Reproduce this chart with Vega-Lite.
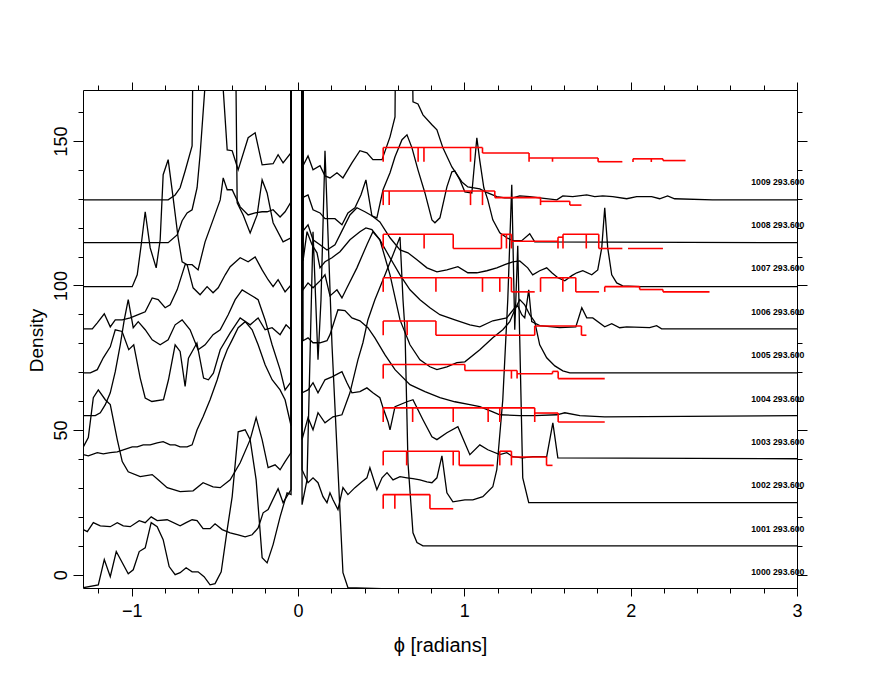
{
"$schema":"https://vega.github.io/schema/vega-lite/v6.json",
"autosize":{"type":"none"},
"padding":{"left":83,"top":90,"right":83,"bottom":92},
"width":714,"height":498,
"background":"white",
"config":{"view":{"stroke":null},"axis":{"grid":false,"domainColor":"#000","tickColor":"#000","labelColor":"#000","titleColor":"#000","labelFont":"Liberation Sans","titleFont":"Liberation Sans","titleFontWeight":"normal","domainWidth":1,"tickWidth":1,"labelFlush":false,"labelOverlap":false}},
"datasets":{
"curves":[
{"c":"1009","x":-1.291,"y":129.6},{"c":"1009","x":-0.781,"y":129.6},{"c":"1009","x":-0.739,"y":131.3},{"c":"1009","x":-0.709,"y":133.8},{"c":"1009","x":-0.679,"y":139.6},{"c":"1009","x":-0.637,"y":148.3},{"c":"1009","x":-0.613,"y":300},{"c":"1009","x":-0.601,"y":300},{"c":"1009","x":-0.426,"y":146.9},{"c":"1009","x":-0.396,"y":146.6},{"c":"1009","x":-0.36,"y":140.0},{"c":"1009","x":-0.3,"y":151.1},{"c":"1009","x":-0.258,"y":152.8},{"c":"1009","x":-0.216,"y":141.7},{"c":"1009","x":-0.15,"y":142.1},{"c":"1009","x":-0.12,"y":145.2},{"c":"1009","x":-0.09,"y":142.4},{"c":"1009","x":-0.042,"y":145.9},{"c":"1009","x":-0.01,"y":100000},{"c":"1009","x":0,"y":100000},{"c":"1009","x":0.024,"y":140.7},{"c":"1009","x":0.06,"y":144.8},{"c":"1009","x":0.09,"y":140.0},{"c":"1009","x":0.132,"y":141.4},{"c":"1009","x":0.162,"y":137.9},{"c":"1009","x":0.192,"y":137.2},{"c":"1009","x":0.234,"y":139.0},{"c":"1009","x":0.27,"y":137.2},{"c":"1009","x":0.324,"y":142.4},{"c":"1009","x":0.372,"y":146.6},{"c":"1009","x":0.414,"y":145.9},{"c":"1009","x":0.45,"y":143.5},{"c":"1009","x":0.505,"y":143.5},{"c":"1009","x":0.553,"y":151.4},{"c":"1009","x":0.583,"y":158.3},{"c":"1009","x":0.601,"y":300},{"c":"1009","x":0.661,"y":300},{"c":"1009","x":0.691,"y":163.5},{"c":"1009","x":0.721,"y":162.8},{"c":"1009","x":0.751,"y":159.0},{"c":"1009","x":0.805,"y":155.6},{"c":"1009","x":0.835,"y":153.8},{"c":"1009","x":0.871,"y":147.6},{"c":"1009","x":0.925,"y":141.0},{"c":"1009","x":0.985,"y":135.8},{"c":"1009","x":1.021,"y":134.1},{"c":"1009","x":1.093,"y":133.4},{"c":"1009","x":1.141,"y":132.0},{"c":"1009","x":1.195,"y":130.7},{"c":"1009","x":1.243,"y":130.3},{"c":"1009","x":1.291,"y":130.3},{"c":"1009","x":1.333,"y":131.0},{"c":"1009","x":1.393,"y":130.7},{"c":"1009","x":1.453,"y":130.3},{"c":"1009","x":1.556,"y":129.6},{"c":"1009","x":1.592,"y":131.0},{"c":"1009","x":1.652,"y":130.7},{"c":"1009","x":1.736,"y":131.3},{"c":"1009","x":1.784,"y":130.7},{"c":"1009","x":1.832,"y":131.0},{"c":"1009","x":1.892,"y":130.7},{"c":"1009","x":1.976,"y":130.0},{"c":"1009","x":2.036,"y":130.7},{"c":"1009","x":2.126,"y":130.7},{"c":"1009","x":2.174,"y":130.0},{"c":"1009","x":2.222,"y":131.0},{"c":"1009","x":2.264,"y":130.0},{"c":"1009","x":2.492,"y":129.6},{"c":"1009","x":3.0,"y":129.6},
{"c":"1008","x":-1.291,"y":114.8},{"c":"1008","x":-0.781,"y":114.8},{"c":"1008","x":-0.727,"y":117.5},{"c":"1008","x":-0.697,"y":122.4},{"c":"1008","x":-0.667,"y":125.1},{"c":"1008","x":-0.637,"y":126.2},{"c":"1008","x":-0.607,"y":133.8},{"c":"1008","x":-0.589,"y":145.2},{"c":"1008","x":-0.396,"y":300},{"c":"1008","x":-0.366,"y":128.6},{"c":"1008","x":-0.33,"y":124.4},{"c":"1008","x":-0.288,"y":118.2},{"c":"1008","x":-0.246,"y":124.4},{"c":"1008","x":-0.216,"y":136.5},{"c":"1008","x":-0.186,"y":132.0},{"c":"1008","x":-0.15,"y":121.7},{"c":"1008","x":-0.09,"y":115.1},{"c":"1008","x":-0.042,"y":116.5},{"c":"1008","x":-0.01,"y":100000},{"c":"1008","x":0,"y":100000},{"c":"1008","x":0.024,"y":130.3},{"c":"1008","x":0.06,"y":131.3},{"c":"1008","x":0.09,"y":126.2},{"c":"1008","x":0.132,"y":125.1},{"c":"1008","x":0.162,"y":123.1},{"c":"1008","x":0.222,"y":123.1},{"c":"1008","x":0.264,"y":121.0},{"c":"1008","x":0.3,"y":125.1},{"c":"1008","x":0.342,"y":126.9},{"c":"1008","x":0.378,"y":131.3},{"c":"1008","x":0.408,"y":136.5},{"c":"1008","x":0.444,"y":124.1},{"c":"1008","x":0.474,"y":123.4},{"c":"1008","x":0.511,"y":133.1},{"c":"1008","x":0.553,"y":139.0},{"c":"1008","x":0.583,"y":144.5},{"c":"1008","x":0.625,"y":150.4},{"c":"1008","x":0.655,"y":152.1},{"c":"1008","x":0.685,"y":147.6},{"c":"1008","x":0.721,"y":140.0},{"c":"1008","x":0.763,"y":132.0},{"c":"1008","x":0.805,"y":122.7},{"c":"1008","x":0.823,"y":121.7},{"c":"1008","x":0.853,"y":123.4},{"c":"1008","x":0.895,"y":134.1},{"c":"1008","x":0.925,"y":139.3},{"c":"1008","x":0.943,"y":139.6},{"c":"1008","x":0.973,"y":136.5},{"c":"1008","x":1.003,"y":132.4},{"c":"1008","x":1.045,"y":132.0},{"c":"1008","x":1.075,"y":151.1},{"c":"1008","x":1.093,"y":143.1},{"c":"1008","x":1.117,"y":133.8},{"c":"1008","x":1.141,"y":129.6},{"c":"1008","x":1.171,"y":122.7},{"c":"1008","x":1.213,"y":118.2},{"c":"1008","x":1.255,"y":116.5},{"c":"1008","x":1.291,"y":115.5},{"c":"1008","x":1.345,"y":115.5},{"c":"1008","x":1.393,"y":117.9},{"c":"1008","x":1.423,"y":115.1},{"c":"1008","x":3.0,"y":114.8},
{"c":"1007","x":-1.291,"y":99.6},{"c":"1007","x":-0.997,"y":99.6},{"c":"1007","x":-0.967,"y":103.7},{"c":"1007","x":-0.943,"y":114.1},{"c":"1007","x":-0.919,"y":125.5},{"c":"1007","x":-0.889,"y":113.0},{"c":"1007","x":-0.853,"y":106.1},{"c":"1007","x":-0.829,"y":115.8},{"c":"1007","x":-0.811,"y":138.3},{"c":"1007","x":-0.781,"y":143.5},{"c":"1007","x":-0.751,"y":130.3},{"c":"1007","x":-0.721,"y":116.5},{"c":"1007","x":-0.697,"y":108.2},{"c":"1007","x":-0.667,"y":107.2},{"c":"1007","x":-0.631,"y":99.2},{"c":"1007","x":-0.589,"y":96.8},{"c":"1007","x":-0.547,"y":99.6},{"c":"1007","x":-0.511,"y":97.5},{"c":"1007","x":-0.48,"y":99.2},{"c":"1007","x":-0.438,"y":103.7},{"c":"1007","x":-0.408,"y":106.5},{"c":"1007","x":-0.348,"y":109.6},{"c":"1007","x":-0.3,"y":108.2},{"c":"1007","x":-0.258,"y":109.9},{"c":"1007","x":-0.216,"y":105.4},{"c":"1007","x":-0.18,"y":102.0},{"c":"1007","x":-0.15,"y":99.6},{"c":"1007","x":-0.12,"y":102.0},{"c":"1007","x":-0.078,"y":97.8},{"c":"1007","x":-0.042,"y":100.2},{"c":"1007","x":-0.01,"y":100000},{"c":"1007","x":0,"y":100000},{"c":"1007","x":0.03,"y":118.9},{"c":"1007","x":0.06,"y":121.0},{"c":"1007","x":0.09,"y":115.8},{"c":"1007","x":0.132,"y":114.1},{"c":"1007","x":0.174,"y":112.3},{"c":"1007","x":0.222,"y":114.1},{"c":"1007","x":0.264,"y":118.9},{"c":"1007","x":0.312,"y":124.4},{"c":"1007","x":0.354,"y":126.9},{"c":"1007","x":0.402,"y":125.5},{"c":"1007","x":0.444,"y":124.1},{"c":"1007","x":0.492,"y":122.0},{"c":"1007","x":0.553,"y":116.5},{"c":"1007","x":0.613,"y":112.3},{"c":"1007","x":0.661,"y":111.3},{"c":"1007","x":0.715,"y":108.9},{"c":"1007","x":0.775,"y":106.1},{"c":"1007","x":0.835,"y":104.7},{"c":"1007","x":0.895,"y":105.4},{"c":"1007","x":0.961,"y":106.5},{"c":"1007","x":1.021,"y":104.4},{"c":"1007","x":1.075,"y":104.4},{"c":"1007","x":1.135,"y":105.1},{"c":"1007","x":1.195,"y":106.1},{"c":"1007","x":1.243,"y":107.2},{"c":"1007","x":1.291,"y":108.2},{"c":"1007","x":1.333,"y":108.5},{"c":"1007","x":1.381,"y":106.1},{"c":"1007","x":1.411,"y":103.7},{"c":"1007","x":1.453,"y":105.1},{"c":"1007","x":1.495,"y":106.1},{"c":"1007","x":1.526,"y":104.4},{"c":"1007","x":1.562,"y":102.7},{"c":"1007","x":1.604,"y":101.6},{"c":"1007","x":1.646,"y":103.4},{"c":"1007","x":1.676,"y":104.4},{"c":"1007","x":1.712,"y":105.1},{"c":"1007","x":1.766,"y":103.7},{"c":"1007","x":1.802,"y":105.4},{"c":"1007","x":1.826,"y":113.0},{"c":"1007","x":1.844,"y":126.9},{"c":"1007","x":1.862,"y":113.0},{"c":"1007","x":1.886,"y":103.7},{"c":"1007","x":1.916,"y":100.9},{"c":"1007","x":1.952,"y":99.9},{"c":"1007","x":2.054,"y":99.6},{"c":"1007","x":3.0,"y":99.6},
{"c":"1006","x":-1.291,"y":85.0},{"c":"1006","x":-1.237,"y":85.0},{"c":"1006","x":-1.207,"y":87.1},{"c":"1006","x":-1.165,"y":90.2},{"c":"1006","x":-1.129,"y":85.7},{"c":"1006","x":-1.099,"y":88.1},{"c":"1006","x":-1.057,"y":88.1},{"c":"1006","x":-1.009,"y":88.8},{"c":"1006","x":-0.961,"y":89.9},{"c":"1006","x":-0.919,"y":90.9},{"c":"1006","x":-0.877,"y":95.7},{"c":"1006","x":-0.841,"y":95.1},{"c":"1006","x":-0.799,"y":92.3},{"c":"1006","x":-0.769,"y":93.3},{"c":"1006","x":-0.727,"y":98.5},{"c":"1006","x":-0.679,"y":107.2},{"c":"1006","x":-0.637,"y":107.2},{"c":"1006","x":-0.601,"y":105.4},{"c":"1006","x":-0.559,"y":115.1},{"c":"1006","x":-0.511,"y":122.7},{"c":"1006","x":-0.468,"y":129.6},{"c":"1006","x":-0.45,"y":137.2},{"c":"1006","x":-0.426,"y":133.1},{"c":"1006","x":-0.396,"y":133.1},{"c":"1006","x":-0.348,"y":127.2},{"c":"1006","x":-0.3,"y":124.4},{"c":"1006","x":-0.258,"y":125.1},{"c":"1006","x":-0.216,"y":125.5},{"c":"1006","x":-0.186,"y":125.5},{"c":"1006","x":-0.15,"y":126.2},{"c":"1006","x":-0.108,"y":123.7},{"c":"1006","x":-0.078,"y":125.5},{"c":"1006","x":-0.042,"y":128.9},{"c":"1006","x":-0.01,"y":100000},{"c":"1006","x":0,"y":100000},{"c":"1006","x":0.03,"y":108.5},{"c":"1006","x":0.054,"y":118.6},{"c":"1006","x":0.084,"y":114.1},{"c":"1006","x":0.114,"y":111.3},{"c":"1006","x":0.132,"y":106.1},{"c":"1006","x":0.162,"y":108.2},{"c":"1006","x":0.204,"y":109.6},{"c":"1006","x":0.252,"y":111.7},{"c":"1006","x":0.312,"y":115.8},{"c":"1006","x":0.372,"y":118.6},{"c":"1006","x":0.408,"y":119.9},{"c":"1006","x":0.444,"y":119.3},{"c":"1006","x":0.492,"y":115.8},{"c":"1006","x":0.553,"y":109.6},{"c":"1006","x":0.613,"y":103.7},{"c":"1006","x":0.673,"y":98.5},{"c":"1006","x":0.733,"y":95.1},{"c":"1006","x":0.793,"y":92.3},{"c":"1006","x":0.853,"y":89.9},{"c":"1006","x":0.943,"y":88.1},{"c":"1006","x":1.033,"y":86.4},{"c":"1006","x":1.093,"y":85.7},{"c":"1006","x":1.171,"y":87.8},{"c":"1006","x":1.255,"y":88.8},{"c":"1006","x":1.303,"y":92.3},{"c":"1006","x":1.321,"y":93.0},{"c":"1006","x":1.345,"y":89.9},{"c":"1006","x":1.363,"y":88.8},{"c":"1006","x":1.387,"y":98.5},{"c":"1006","x":1.405,"y":87.5},{"c":"1006","x":1.453,"y":86.1},{"c":"1006","x":1.574,"y":85.4},{"c":"1006","x":1.67,"y":85.7},{"c":"1006","x":1.706,"y":92.3},{"c":"1006","x":1.736,"y":88.8},{"c":"1006","x":1.772,"y":88.8},{"c":"1006","x":1.844,"y":85.7},{"c":"1006","x":1.886,"y":86.8},{"c":"1006","x":1.934,"y":85.4},{"c":"1006","x":1.976,"y":85.7},{"c":"1006","x":2.114,"y":85.4},{"c":"1006","x":2.156,"y":86.1},{"c":"1006","x":2.186,"y":85.0},{"c":"1006","x":3.0,"y":85.0},
{"c":"1005","x":-1.291,"y":69.8},{"c":"1005","x":-1.249,"y":69.8},{"c":"1005","x":-1.207,"y":70.9},{"c":"1005","x":-1.171,"y":75.0},{"c":"1005","x":-1.129,"y":78.8},{"c":"1005","x":-1.099,"y":84.7},{"c":"1005","x":-1.058,"y":84.1},{"c":"1005","x":-1.018,"y":77.8},{"c":"1005","x":-0.988,"y":79.5},{"c":"1005","x":-0.949,"y":68.0},{"c":"1005","x":-0.919,"y":61.1},{"c":"1005","x":-0.879,"y":59.9},{"c":"1005","x":-0.809,"y":60.5},{"c":"1005","x":-0.779,"y":67.4},{"c":"1005","x":-0.739,"y":79.5},{"c":"1005","x":-0.709,"y":77.2},{"c":"1005","x":-0.679,"y":65.1},{"c":"1005","x":-0.659,"y":74.9},{"c":"1005","x":-0.608,"y":80.1},{"c":"1005","x":-0.568,"y":68.0},{"c":"1005","x":-0.539,"y":67.4},{"c":"1005","x":-0.509,"y":69.7},{"c":"1005","x":-0.468,"y":77.8},{"c":"1005","x":-0.408,"y":83.6},{"c":"1005","x":-0.348,"y":88.8},{"c":"1005","x":-0.288,"y":86.4},{"c":"1005","x":-0.24,"y":88.8},{"c":"1005","x":-0.198,"y":84.7},{"c":"1005","x":-0.156,"y":85.4},{"c":"1005","x":-0.108,"y":83.0},{"c":"1005","x":-0.072,"y":86.4},{"c":"1005","x":-0.042,"y":84.7},{"c":"1005","x":-0.01,"y":100000},{"c":"1005","x":0,"y":100000},{"c":"1005","x":0.03,"y":98.5},{"c":"1005","x":0.06,"y":100.9},{"c":"1005","x":0.09,"y":99.2},{"c":"1005","x":0.132,"y":101.6},{"c":"1005","x":0.162,"y":103.7},{"c":"1005","x":0.192,"y":96.4},{"c":"1005","x":0.234,"y":98.5},{"c":"1005","x":0.264,"y":95.7},{"c":"1005","x":0.294,"y":99.2},{"c":"1005","x":0.354,"y":106.1},{"c":"1005","x":0.414,"y":114.1},{"c":"1005","x":0.45,"y":118.6},{"c":"1005","x":0.492,"y":115.8},{"c":"1005","x":0.553,"y":103.7},{"c":"1005","x":0.613,"y":88.1},{"c":"1005","x":0.673,"y":79.5},{"c":"1005","x":0.733,"y":74.3},{"c":"1005","x":0.793,"y":71.9},{"c":"1005","x":0.835,"y":70.9},{"c":"1005","x":0.895,"y":71.9},{"c":"1005","x":0.955,"y":73.3},{"c":"1005","x":1.003,"y":73.6},{"c":"1005","x":1.093,"y":77.8},{"c":"1005","x":1.171,"y":81.9},{"c":"1005","x":1.231,"y":84.7},{"c":"1005","x":1.273,"y":87.5},{"c":"1005","x":1.303,"y":91.6},{"c":"1005","x":1.333,"y":95.1},{"c":"1005","x":1.363,"y":93.3},{"c":"1005","x":1.393,"y":89.9},{"c":"1005","x":1.423,"y":87.5},{"c":"1005","x":1.453,"y":79.5},{"c":"1005","x":1.495,"y":75.0},{"c":"1005","x":1.544,"y":72.2},{"c":"1005","x":1.592,"y":70.5},{"c":"1005","x":1.634,"y":69.8},{"c":"1005","x":3.0,"y":69.8},
{"c":"1004","x":-1.291,"y":55.0},{"c":"1004","x":-1.219,"y":55.0},{"c":"1004","x":-1.189,"y":56.0},{"c":"1004","x":-1.159,"y":58.8},{"c":"1004","x":-1.129,"y":62.9},{"c":"1004","x":-1.099,"y":70.2},{"c":"1004","x":-1.069,"y":79.5},{"c":"1004","x":-1.045,"y":88.1},{"c":"1004","x":-1.021,"y":95.1},{"c":"1004","x":-0.991,"y":85.4},{"c":"1004","x":-0.961,"y":87.5},{"c":"1004","x":-0.919,"y":84.7},{"c":"1004","x":-0.877,"y":81.2},{"c":"1004","x":-0.829,"y":79.5},{"c":"1004","x":-0.781,"y":81.2},{"c":"1004","x":-0.739,"y":86.4},{"c":"1004","x":-0.697,"y":88.1},{"c":"1004","x":-0.649,"y":84.7},{"c":"1004","x":-0.601,"y":77.8},{"c":"1004","x":-0.559,"y":79.5},{"c":"1004","x":-0.511,"y":83.0},{"c":"1004","x":-0.468,"y":84.7},{"c":"1004","x":-0.42,"y":89.9},{"c":"1004","x":-0.378,"y":95.1},{"c":"1004","x":-0.336,"y":98.5},{"c":"1004","x":-0.288,"y":96.8},{"c":"1004","x":-0.24,"y":95.1},{"c":"1004","x":-0.198,"y":88.1},{"c":"1004","x":-0.156,"y":79.5},{"c":"1004","x":-0.108,"y":70.9},{"c":"1004","x":-0.078,"y":63.9},{"c":"1004","x":-0.042,"y":66.7},{"c":"1004","x":-0.01,"y":100000},{"c":"1004","x":0,"y":100000},{"c":"1004","x":0.03,"y":80.9},{"c":"1004","x":0.06,"y":81.9},{"c":"1004","x":0.09,"y":80.2},{"c":"1004","x":0.132,"y":80.2},{"c":"1004","x":0.174,"y":80.9},{"c":"1004","x":0.192,"y":83.0},{"c":"1004","x":0.24,"y":91.6},{"c":"1004","x":0.282,"y":91.3},{"c":"1004","x":0.324,"y":88.8},{"c":"1004","x":0.372,"y":87.8},{"c":"1004","x":0.42,"y":85.4},{"c":"1004","x":0.462,"y":81.9},{"c":"1004","x":0.523,"y":76.0},{"c":"1004","x":0.583,"y":70.9},{"c":"1004","x":0.673,"y":65.7},{"c":"1004","x":0.763,"y":63.3},{"c":"1004","x":0.853,"y":61.2},{"c":"1004","x":0.943,"y":59.8},{"c":"1004","x":1.033,"y":58.8},{"c":"1004","x":1.093,"y":58.1},{"c":"1004","x":1.171,"y":56.3},{"c":"1004","x":1.213,"y":55.3},{"c":"1004","x":1.333,"y":55.0},{"c":"1004","x":1.423,"y":55.0},{"c":"1004","x":1.556,"y":55.3},{"c":"1004","x":1.604,"y":56.0},{"c":"1004","x":1.694,"y":55.0},{"c":"1004","x":1.844,"y":54.6},{"c":"1004","x":3.0,"y":55.0},
{"c":"1003","x":-1.291,"y":44.2},{"c":"1003","x":-1.261,"y":47.4},{"c":"1003","x":-1.231,"y":61.2},{"c":"1003","x":-1.201,"y":63.9},{"c":"1003","x":-1.159,"y":60.5},{"c":"1003","x":-1.129,"y":58.8},{"c":"1003","x":-1.087,"y":46.7},{"c":"1003","x":-1.057,"y":39.1},{"c":"1003","x":-1.021,"y":35.6},{"c":"1003","x":-0.949,"y":33.9},{"c":"1003","x":-0.877,"y":34.6},{"c":"1003","x":-0.841,"y":32.8},{"c":"1003","x":-0.787,"y":30.1},{"c":"1003","x":-0.709,"y":28.7},{"c":"1003","x":-0.631,"y":29.0},{"c":"1003","x":-0.571,"y":31.8},{"c":"1003","x":-0.511,"y":30.4},{"c":"1003","x":-0.468,"y":30.1},{"c":"1003","x":-0.408,"y":32.8},{"c":"1003","x":-0.348,"y":38.7},{"c":"1003","x":-0.288,"y":46.7},{"c":"1003","x":-0.252,"y":54.3},{"c":"1003","x":-0.216,"y":46.7},{"c":"1003","x":-0.18,"y":37.0},{"c":"1003","x":-0.138,"y":38.0},{"c":"1003","x":-0.108,"y":36.3},{"c":"1003","x":-0.078,"y":39.1},{"c":"1003","x":-0.042,"y":42.2},{"c":"1003","x":-0.01,"y":100000},{"c":"1003","x":0,"y":100000},{"c":"1003","x":0.024,"y":62.9},{"c":"1003","x":0.06,"y":63.9},{"c":"1003","x":0.09,"y":66.4},{"c":"1003","x":0.12,"y":62.9},{"c":"1003","x":0.162,"y":67.4},{"c":"1003","x":0.204,"y":68.4},{"c":"1003","x":0.264,"y":70.2},{"c":"1003","x":0.294,"y":66.4},{"c":"1003","x":0.324,"y":62.9},{"c":"1003","x":0.372,"y":63.3},{"c":"1003","x":0.414,"y":64.6},{"c":"1003","x":0.45,"y":62.9},{"c":"1003","x":0.492,"y":61.2},{"c":"1003","x":0.511,"y":57.7},{"c":"1003","x":0.541,"y":52.9},{"c":"1003","x":0.553,"y":50.1},{"c":"1003","x":0.583,"y":58.1},{"c":"1003","x":0.655,"y":59.8},{"c":"1003","x":0.691,"y":60.5},{"c":"1003","x":0.751,"y":53.6},{"c":"1003","x":0.805,"y":47.7},{"c":"1003","x":0.835,"y":46.7},{"c":"1003","x":0.895,"y":49.1},{"c":"1003","x":0.961,"y":51.2},{"c":"1003","x":1.033,"y":41.5},{"c":"1003","x":1.093,"y":44.9},{"c":"1003","x":1.141,"y":43.2},{"c":"1003","x":1.213,"y":41.5},{"c":"1003","x":1.255,"y":42.2},{"c":"1003","x":1.291,"y":40.8},{"c":"1003","x":1.351,"y":40.4},{"c":"1003","x":1.411,"y":40.8},{"c":"1003","x":1.495,"y":40.8},{"c":"1003","x":1.532,"y":52.5},{"c":"1003","x":1.562,"y":40.4},{"c":"1003","x":3.0,"y":40.1},
{"c":"1002","x":-1.291,"y":41.5},{"c":"1002","x":-1.261,"y":41.1},{"c":"1002","x":-1.207,"y":42.2},{"c":"1002","x":-1.171,"y":41.8},{"c":"1002","x":-1.129,"y":42.2},{"c":"1002","x":-1.087,"y":42.5},{"c":"1002","x":-1.051,"y":43.2},{"c":"1002","x":-0.997,"y":44.2},{"c":"1002","x":-0.967,"y":44.2},{"c":"1002","x":-0.931,"y":44.9},{"c":"1002","x":-0.889,"y":44.9},{"c":"1002","x":-0.847,"y":45.6},{"c":"1002","x":-0.811,"y":46.0},{"c":"1002","x":-0.769,"y":44.9},{"c":"1002","x":-0.739,"y":44.9},{"c":"1002","x":-0.709,"y":44.2},{"c":"1002","x":-0.667,"y":44.2},{"c":"1002","x":-0.637,"y":44.9},{"c":"1002","x":-0.607,"y":50.1},{"c":"1002","x":-0.571,"y":54.6},{"c":"1002","x":-0.529,"y":60.5},{"c":"1002","x":-0.486,"y":67.4},{"c":"1002","x":-0.456,"y":73.3},{"c":"1002","x":-0.426,"y":77.8},{"c":"1002","x":-0.396,"y":81.2},{"c":"1002","x":-0.36,"y":85.4},{"c":"1002","x":-0.318,"y":87.5},{"c":"1002","x":-0.276,"y":84.7},{"c":"1002","x":-0.24,"y":79.5},{"c":"1002","x":-0.198,"y":72.6},{"c":"1002","x":-0.156,"y":67.4},{"c":"1002","x":-0.108,"y":63.9},{"c":"1002","x":-0.078,"y":60.5},{"c":"1002","x":-0.042,"y":51.5},{"c":"1002","x":-0.01,"y":100000},{"c":"1002","x":0,"y":100000},{"c":"1002","x":0.024,"y":36.3},{"c":"1002","x":0.06,"y":31.8},{"c":"1002","x":0.09,"y":33.5},{"c":"1002","x":0.12,"y":31.8},{"c":"1002","x":0.15,"y":27.0},{"c":"1002","x":0.174,"y":24.9},{"c":"1002","x":0.192,"y":28.3},{"c":"1002","x":0.21,"y":25.9},{"c":"1002","x":0.24,"y":22.5},{"c":"1002","x":0.27,"y":30.1},{"c":"1002","x":0.3,"y":27.7},{"c":"1002","x":0.342,"y":30.1},{"c":"1002","x":0.384,"y":32.1},{"c":"1002","x":0.414,"y":33.5},{"c":"1002","x":0.432,"y":37.0},{"c":"1002","x":0.474,"y":29.4},{"c":"1002","x":0.505,"y":33.5},{"c":"1002","x":0.535,"y":35.3},{"c":"1002","x":0.571,"y":32.8},{"c":"1002","x":0.613,"y":33.9},{"c":"1002","x":0.655,"y":33.5},{"c":"1002","x":0.691,"y":33.2},{"c":"1002","x":0.733,"y":32.8},{"c":"1002","x":0.775,"y":32.1},{"c":"1002","x":0.805,"y":31.8},{"c":"1002","x":0.835,"y":33.5},{"c":"1002","x":0.865,"y":41.1},{"c":"1002","x":0.895,"y":28.3},{"c":"1002","x":0.931,"y":25.2},{"c":"1002","x":1.003,"y":25.9},{"c":"1002","x":1.051,"y":25.9},{"c":"1002","x":1.111,"y":27.0},{"c":"1002","x":1.171,"y":30.4},{"c":"1002","x":1.195,"y":36.3},{"c":"1002","x":1.231,"y":60.5},{"c":"1002","x":1.261,"y":95.1},{"c":"1002","x":1.285,"y":134.8},{"c":"1002","x":1.303,"y":84.7},{"c":"1002","x":1.321,"y":113.7},{"c":"1002","x":1.333,"y":81.2},{"c":"1002","x":1.351,"y":33.5},{"c":"1002","x":1.387,"y":24.9},{"c":"1002","x":3.0,"y":24.9},
{"c":"1001","x":-1.291,"y":15.6},{"c":"1001","x":-1.267,"y":14.9},{"c":"1001","x":-1.231,"y":18.0},{"c":"1001","x":-1.189,"y":16.9},{"c":"1001","x":-1.129,"y":16.6},{"c":"1001","x":-1.087,"y":18.0},{"c":"1001","x":-1.051,"y":16.9},{"c":"1001","x":-1.009,"y":16.6},{"c":"1001","x":-0.955,"y":18.7},{"c":"1001","x":-0.919,"y":18.0},{"c":"1001","x":-0.883,"y":20.0},{"c":"1001","x":-0.847,"y":18.7},{"c":"1001","x":-0.787,"y":19.0},{"c":"1001","x":-0.709,"y":16.9},{"c":"1001","x":-0.673,"y":18.0},{"c":"1001","x":-0.637,"y":19.0},{"c":"1001","x":-0.607,"y":18.7},{"c":"1001","x":-0.571,"y":15.9},{"c":"1001","x":-0.529,"y":15.9},{"c":"1001","x":-0.499,"y":17.6},{"c":"1001","x":-0.456,"y":15.6},{"c":"1001","x":-0.408,"y":14.5},{"c":"1001","x":-0.36,"y":13.8},{"c":"1001","x":-0.318,"y":13.1},{"c":"1001","x":-0.276,"y":13.8},{"c":"1001","x":-0.24,"y":16.2},{"c":"1001","x":-0.21,"y":21.4},{"c":"1001","x":-0.18,"y":22.5},{"c":"1001","x":-0.12,"y":29.7},{"c":"1001","x":-0.09,"y":24.9},{"c":"1001","x":-0.042,"y":29.4},{"c":"1001","x":-0.01,"y":100000},{"c":"1001","x":0,"y":100000},{"c":"1001","x":0.024,"y":46.7},{"c":"1001","x":0.06,"y":54.3},{"c":"1001","x":0.09,"y":50.1},{"c":"1001","x":0.12,"y":56.0},{"c":"1001","x":0.162,"y":52.5},{"c":"1001","x":0.21,"y":54.6},{"c":"1001","x":0.264,"y":55.3},{"c":"1001","x":0.312,"y":62.9},{"c":"1001","x":0.36,"y":74.3},{"c":"1001","x":0.39,"y":80.2},{"c":"1001","x":0.42,"y":88.1},{"c":"1001","x":0.462,"y":95.1},{"c":"1001","x":0.523,"y":103.7},{"c":"1001","x":0.571,"y":110.6},{"c":"1001","x":0.613,"y":116.8},{"c":"1001","x":0.631,"y":95.1},{"c":"1001","x":0.643,"y":84.7},{"c":"1001","x":0.661,"y":38.7},{"c":"1001","x":0.691,"y":14.5},{"c":"1001","x":0.715,"y":11.1},{"c":"1001","x":0.751,"y":10.0},{"c":"1001","x":3.0,"y":10.0},
{"c":"1000","x":-1.291,"y":-4.5},{"c":"1000","x":-1.201,"y":-3.5},{"c":"1000","x":-1.165,"y":5.2},{"c":"1000","x":-1.129,"y":-0.7},{"c":"1000","x":-1.093,"y":8.0},{"c":"1000","x":-1.021,"y":0.3},{"c":"1000","x":-0.991,"y":1.7},{"c":"1000","x":-0.955,"y":8.0},{"c":"1000","x":-0.919,"y":9.3},{"c":"1000","x":-0.883,"y":18.0},{"c":"1000","x":-0.847,"y":16.6},{"c":"1000","x":-0.811,"y":12.1},{"c":"1000","x":-0.775,"y":2.8},{"c":"1000","x":-0.739,"y":0.0},{"c":"1000","x":-0.709,"y":0.7},{"c":"1000","x":-0.673,"y":2.4},{"c":"1000","x":-0.637,"y":1.0},{"c":"1000","x":-0.601,"y":1.0},{"c":"1000","x":-0.565,"y":-0.7},{"c":"1000","x":-0.529,"y":-3.5},{"c":"1000","x":-0.499,"y":-3.1},{"c":"1000","x":-0.462,"y":1.0},{"c":"1000","x":-0.426,"y":15.6},{"c":"1000","x":-0.396,"y":27.0},{"c":"1000","x":-0.36,"y":49.4},{"c":"1000","x":-0.318,"y":50.1},{"c":"1000","x":-0.288,"y":46.7},{"c":"1000","x":-0.252,"y":32.8},{"c":"1000","x":-0.216,"y":5.9},{"c":"1000","x":-0.186,"y":4.1},{"c":"1000","x":-0.15,"y":10.4},{"c":"1000","x":-0.108,"y":20.0},{"c":"1000","x":-0.066,"y":28.3},{"c":"1000","x":-0.042,"y":27.7},{"c":"1000","x":-0.01,"y":100000},{"c":"1000","x":0,"y":100000},{"c":"1000","x":0.024,"y":24.2},{"c":"1000","x":0.054,"y":32.8},{"c":"1000","x":0.09,"y":118.6},{"c":"1000","x":0.12,"y":74.3},{"c":"1000","x":0.138,"y":95.1},{"c":"1000","x":0.162,"y":146.6},{"c":"1000","x":0.204,"y":79.5},{"c":"1000","x":0.24,"y":36.3},{"c":"1000","x":0.27,"y":0.7},{"c":"1000","x":0.3,"y":-4.5},{"c":"1000","x":0.613,"y":-5},{"c":"1000","x":3.0,"y":-5}
],
"red":[
{"x":0.512,"x2":1.109,"y":147.7,"y2":147.7},{"x":0.512,"x2":0.512,"y":147.7,"y2":142.8},{"x":0.722,"x2":0.722,"y":147.7,"y2":142.8},{"x":0.757,"x2":0.757,"y":147.7,"y2":142.8},{"x":1.037,"x2":1.037,"y":147.7,"y2":142.8},{"x":1.109,"x2":1.109,"y":147.7,"y2":145.8},{"x":1.109,"x2":1.389,"y":145.8,"y2":145.8},{"x":1.389,"x2":1.389,"y":145.8,"y2":142.8},{"x":1.389,"x2":1.804,"y":144.1,"y2":144.1},{"x":1.53,"x2":1.53,"y":144.1,"y2":142.8},{"x":1.804,"x2":1.804,"y":144.1,"y2":142.8},{"x":1.804,"x2":1.95,"y":142.8,"y2":142.8},{"x":2.014,"x2":2.194,"y":143.8,"y2":143.8},{"x":2.014,"x2":2.014,"y":143.8,"y2":142.7},{"x":2.124,"x2":2.124,"y":143.8,"y2":142.7},{"x":2.194,"x2":2.194,"y":143.8,"y2":143.2},{"x":2.194,"x2":2.33,"y":143.2,"y2":143.2},
{"x":0.512,"x2":1.183,"y":132.7,"y2":132.7},{"x":0.512,"x2":0.512,"y":132.7,"y2":127.8},{"x":0.548,"x2":0.548,"y":132.7,"y2":127.8},{"x":1.037,"x2":1.037,"y":132.7,"y2":127.8},{"x":1.109,"x2":1.109,"y":132.7,"y2":127.8},{"x":1.183,"x2":1.183,"y":132.7,"y2":130.4},{"x":1.183,"x2":1.458,"y":130.4,"y2":130.4},{"x":1.458,"x2":1.458,"y":130.4,"y2":127.8},{"x":1.458,"x2":1.634,"y":129.1,"y2":129.1},{"x":1.634,"x2":1.634,"y":129.1,"y2":127.8},{"x":1.634,"x2":1.704,"y":127.8,"y2":127.8},
{"x":0.512,"x2":0.933,"y":117.7,"y2":117.7},{"x":0.512,"x2":0.512,"y":117.7,"y2":112.8},{"x":0.758,"x2":0.758,"y":117.7,"y2":112.8},{"x":0.933,"x2":0.933,"y":117.7,"y2":112.8},{"x":0.933,"x2":1.223,"y":112.8,"y2":112.8},{"x":1.223,"x2":1.223,"y":117.7,"y2":112.8},{"x":1.223,"x2":1.283,"y":117.7,"y2":117.7},{"x":1.253,"x2":1.253,"y":117.7,"y2":112.8},{"x":1.283,"x2":1.283,"y":117.7,"y2":112.8},{"x":1.283,"x2":1.563,"y":115.3,"y2":115.3},{"x":1.563,"x2":1.563,"y":116.7,"y2":112.8},{"x":1.563,"x2":1.593,"y":116.7,"y2":116.7},{"x":1.593,"x2":1.593,"y":117.7,"y2":112.8},{"x":1.593,"x2":1.808,"y":117.7,"y2":117.7},{"x":1.733,"x2":1.733,"y":117.7,"y2":112.8},{"x":1.808,"x2":1.808,"y":117.7,"y2":112.8},{"x":1.808,"x2":1.95,"y":112.8,"y2":112.8},{"x":1.984,"x2":2.194,"y":112.8,"y2":112.8},
{"x":0.512,"x2":1.283,"y":102.7,"y2":102.7},{"x":0.512,"x2":0.512,"y":102.7,"y2":97.8},{"x":0.829,"x2":0.829,"y":102.7,"y2":97.8},{"x":1.109,"x2":1.109,"y":102.7,"y2":97.8},{"x":1.213,"x2":1.213,"y":102.7,"y2":97.8},{"x":1.283,"x2":1.283,"y":102.7,"y2":97.8},{"x":1.283,"x2":1.423,"y":97.8,"y2":97.8},{"x":1.458,"x2":1.458,"y":102.7,"y2":97.8},{"x":1.458,"x2":1.67,"y":102.7,"y2":102.7},{"x":1.592,"x2":1.592,"y":102.7,"y2":97.8},{"x":1.67,"x2":1.67,"y":102.7,"y2":97.8},{"x":1.67,"x2":1.81,"y":97.8,"y2":97.8},{"x":1.844,"x2":1.844,"y":99.6,"y2":97.8},{"x":1.844,"x2":2.054,"y":99.6,"y2":99.6},{"x":2.054,"x2":2.054,"y":99.6,"y2":98.6},{"x":2.054,"x2":2.194,"y":98.6,"y2":98.6},{"x":2.194,"x2":2.194,"y":98.6,"y2":97.8},{"x":2.194,"x2":2.474,"y":97.8,"y2":97.8},
{"x":0.512,"x2":0.829,"y":87.7,"y2":87.7},{"x":0.512,"x2":0.512,"y":87.7,"y2":82.8},{"x":0.656,"x2":0.656,"y":87.7,"y2":82.8},{"x":0.829,"x2":0.829,"y":87.7,"y2":82.8},{"x":0.829,"x2":1.423,"y":82.8,"y2":82.8},{"x":1.423,"x2":1.423,"y":86.0,"y2":82.8},{"x":1.423,"x2":1.704,"y":86.0,"y2":86.0},{"x":1.704,"x2":1.704,"y":86.0,"y2":82.8},{"x":1.704,"x2":1.734,"y":82.8,"y2":82.8},
{"x":0.512,"x2":1.003,"y":72.7,"y2":72.7},{"x":0.512,"x2":0.512,"y":72.7,"y2":67.8},{"x":1.003,"x2":1.003,"y":72.7,"y2":70.6},{"x":1.003,"x2":1.317,"y":70.6,"y2":70.6},{"x":1.283,"x2":1.283,"y":70.6,"y2":67.8},{"x":1.317,"x2":1.317,"y":70.6,"y2":67.8},{"x":1.317,"x2":1.53,"y":69.5,"y2":69.5},{"x":1.53,"x2":1.53,"y":70.3,"y2":69.5},{"x":1.53,"x2":1.564,"y":70.3,"y2":70.3},{"x":1.564,"x2":1.564,"y":70.3,"y2":67.8},{"x":1.564,"x2":1.844,"y":67.8,"y2":67.8},
{"x":0.512,"x2":1.423,"y":57.7,"y2":57.7},{"x":0.512,"x2":0.512,"y":57.7,"y2":52.8},{"x":0.689,"x2":0.689,"y":57.7,"y2":52.8},{"x":0.933,"x2":0.933,"y":57.7,"y2":52.8},{"x":1.143,"x2":1.143,"y":57.7,"y2":52.8},{"x":1.213,"x2":1.213,"y":57.7,"y2":52.8},{"x":1.423,"x2":1.423,"y":57.7,"y2":52.8},{"x":1.423,"x2":1.564,"y":55.9,"y2":55.9},{"x":1.564,"x2":1.564,"y":55.9,"y2":52.8},{"x":1.564,"x2":1.844,"y":52.8,"y2":52.8},
{"x":0.512,"x2":0.969,"y":42.7,"y2":42.7},{"x":0.512,"x2":0.512,"y":42.7,"y2":37.8},{"x":0.653,"x2":0.653,"y":42.7,"y2":37.8},{"x":0.933,"x2":0.933,"y":42.7,"y2":37.8},{"x":0.969,"x2":0.969,"y":42.7,"y2":37.8},{"x":0.969,"x2":1.177,"y":37.8,"y2":37.8},{"x":1.213,"x2":1.213,"y":42.7,"y2":37.8},{"x":1.213,"x2":1.283,"y":42.7,"y2":42.7},{"x":1.283,"x2":1.283,"y":42.7,"y2":37.8},{"x":1.283,"x2":1.494,"y":40.7,"y2":40.7},{"x":1.494,"x2":1.494,"y":40.7,"y2":37.8},{"x":1.494,"x2":1.53,"y":37.8,"y2":37.8},
{"x":0.512,"x2":0.793,"y":27.7,"y2":27.7},{"x":0.512,"x2":0.512,"y":27.7,"y2":22.8},{"x":0.582,"x2":0.582,"y":27.7,"y2":22.8},{"x":0.793,"x2":0.793,"y":27.7,"y2":22.8},{"x":0.793,"x2":0.933,"y":22.8,"y2":22.8}
],
"labels":[
{"x":2.725,"y":135.9,"t":"1009 293.600"},{"x":2.725,"y":120.9,"t":"1008 293.600"},{"x":2.725,"y":105.9,"t":"1007 293.600"},{"x":2.725,"y":90.9,"t":"1006 293.600"},{"x":2.725,"y":75.9,"t":"1005 293.600"},{"x":2.725,"y":60.9,"t":"1004 293.600"},{"x":2.725,"y":45.9,"t":"1003 293.600"},{"x":2.725,"y":30.9,"t":"1002 293.600"},{"x":2.725,"y":15.9,"t":"1001 293.600"},{"x":2.725,"y":0.9,"t":"1000 293.600"}
]
},
"resolve":{"axis":{"x":"independent","y":"independent"}},
"layer":[
{"data":{"name":"curves"},
 "mark":{"type":"line","color":"#000","strokeWidth":1.3,"clip":true},
 "encoding":{
  "x":{"field":"x","type":"quantitative","scale":{"domain":[-1.293,3.0],"nice":false,"zero":false},
       "axis":{"orient":"bottom","values":[-1,0,1,2,3],"tickSize":8,"labelFontSize":18,"labelPadding":6,"title":"ϕ [radians]","titleFontSize":20,"titleX":357,"titleY":57,"titleAlign":"center","titleBaseline":"middle"}},
  "y":{"field":"y","type":"quantitative","scale":{"domain":[-4.6,167.6],"nice":false,"zero":false},
       "axis":{"orient":"left","values":[0,50,100,150],"tickSize":10,"labelAngle":-90,"labelAlign":"center","labelBaseline":"bottom","labelPadding":3,"labelFontSize":18,"title":"Density","titleFontSize":19,"titleAngle":-90,"titleX":-47,"titleY":250,"titleAlign":"center","titleBaseline":"middle"}},
  "detail":{"field":"c","type":"nominal"}
 }},
{"data":{"name":"red"},
 "mark":{"type":"rule","color":"#ff0000","strokeWidth":1.6,"clip":true},
 "encoding":{
  "x":{"field":"x","type":"quantitative","scale":{"domain":[-1.293,3.0],"nice":false,"zero":false},
       "axis":{"orient":"bottom","values":[-1.2,-1,-0.8,-0.6,-0.4,-0.2,0,0.2,0.4,0.6,0.8,1,1.2,1.4,1.6,1.8,2,2.2,2.4,2.6,2.8,3],"tickSize":5,"labels":false,"domain":false,"title":null}},
  "x2":{"field":"x2"},
  "y":{"field":"y","type":"quantitative","scale":{"domain":[-4.6,167.6],"nice":false,"zero":false},
       "axis":{"orient":"left","values":[0,10,20,30,40,50,60,70,80,90,100,110,120,130,140,150,160],"tickSize":5,"labels":false,"domain":false,"title":null}},
  "y2":{"field":"y2"}
 }},
{"data":{"name":"labels"},
 "mark":{"type":"text","align":"left","baseline":"middle","fontSize":8.7,"fontWeight":"bold","font":"Liberation Sans","color":"#000"},
 "encoding":{
  "x":{"field":"x","type":"quantitative","scale":{"domain":[-1.293,3.0],"nice":false,"zero":false},
       "axis":{"orient":"top","values":[-1,0,1,2,3],"tickSize":8,"labels":false,"title":null}},
  "y":{"field":"y","type":"quantitative","scale":{"domain":[-4.6,167.6],"nice":false,"zero":false},
       "axis":{"orient":"right","values":[0,50,100,150],"tickSize":10,"labels":false,"title":null}},
  "text":{"field":"t"}
 }},
{"data":{"name":"labels"},
 "mark":{"type":"point","opacity":0},
 "encoding":{
  "x":{"field":"x","type":"quantitative","scale":{"domain":[-1.293,3.0],"nice":false,"zero":false},
       "axis":{"orient":"top","values":[-1.2,-1,-0.8,-0.6,-0.4,-0.2,0,0.2,0.4,0.6,0.8,1,1.2,1.4,1.6,1.8,2,2.2,2.4,2.6,2.8,3],"tickSize":5,"labels":false,"domain":false,"title":null}},
  "y":{"field":"y","type":"quantitative","scale":{"domain":[-4.6,167.6],"nice":false,"zero":false},
       "axis":{"orient":"right","values":[0,10,20,30,40,50,60,70,80,90,100,110,120,130,140,150,160],"tickSize":5,"labels":false,"domain":false,"title":null}}
 }}
]
}
